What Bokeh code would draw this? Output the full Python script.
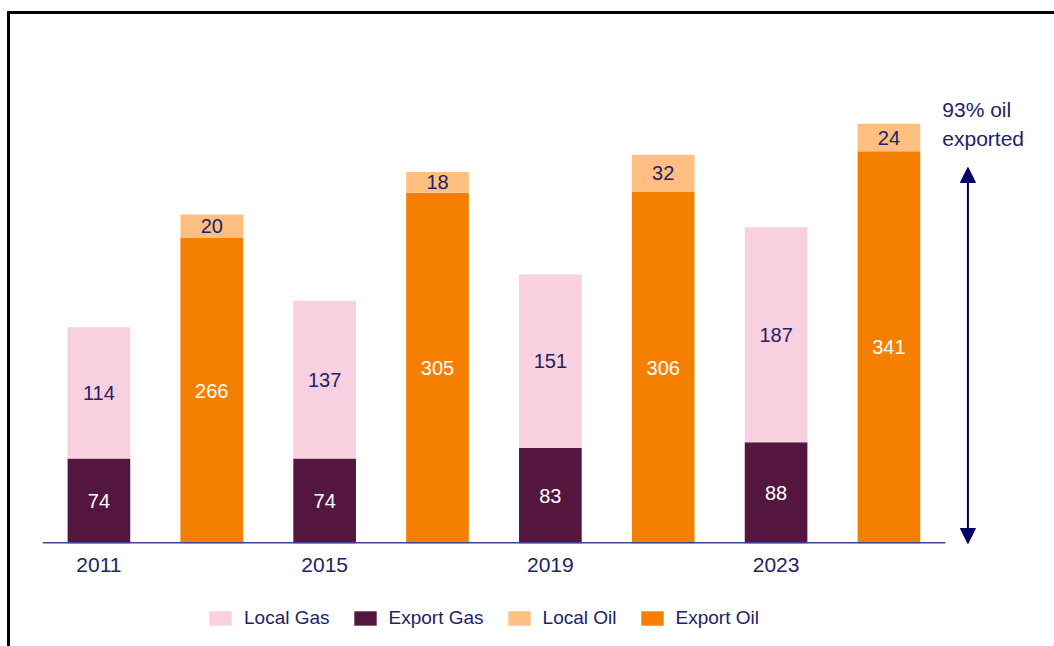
from bokeh.plotting import figure
from bokeh.layouts import column
from bokeh.models import (ColumnDataSource, Range1d, LabelSet, Legend, LegendItem,
                          Arrow, NormalHead, Label, FixedTicker, CustomJSTickFormatter)
from bokeh.core.properties import value
from bokeh.embed import file_html
from bokeh.resources import INLINE

# ---- data ----
years = ["2011", "2015", "2019", "2023"]
local_gas = [114, 137, 151, 187]
export_gas = [74, 74, 83, 88]
local_oil = [20, 18, 32, 24]
export_oil = [266, 305, 306, 341]
series = ["Local Gas", "Export Gas", "Local Oil", "Export Oil"]
annotation_lines = ["93% oil", "exported"]
arrow_top = 327

colors = {"Local Gas": "#F9D0DF", "Export Gas": "#54163F",
          "Local Oil": "#FFBF80", "Export Oil": "#F57F00"}
NAVY = "#222266"
FONT = "Liberation Sans"

n_slots = 2 * len(years)
gas_x = [0.5 + 2 * i for i in range(len(years))]
oil_x = [1.5 + 2 * i for i in range(len(years))]

def make_src(xs, exp, loc):
    return ColumnDataSource(dict(
        x=xs, exp=exp, loc=loc,
        exp_mid=[e / 2 for e in exp],
        loc_mid=[e + l / 2 for e, l in zip(exp, loc)],
        exp_txt=[str(v) for v in exp], loc_txt=[str(v) for v in loc]))

gas_src = make_src(gas_x, export_gas, local_gas)
oil_src = make_src(oil_x, export_oil, local_oil)

PX_PER_SLOT = 113.75
PX_PER_UNIT = 1.15
W = 1044
p = figure(x_range=Range1d(0, n_slots + 110 / PX_PER_SLOT),
           y_range=Range1d(0, 529 / PX_PER_UNIT),
           width=W, height=584, output_backend="svg", toolbar_location=None,
           min_border_left=32, min_border_right=0, min_border_top=0,
           min_border_bottom=55, y_axis_location=None)
p.xgrid.visible = False
p.ygrid.visible = False
p.outline_line_color = None

BW = 0.555
gas_r = p.vbar_stack(["exp", "loc"], x="x", width=BW, source=gas_src,
                     color=[colors["Export Gas"], colors["Local Gas"]], line_color=None)
oil_r = p.vbar_stack(["exp", "loc"], x="x", width=BW, source=oil_src,
                     color=[colors["Export Oil"], colors["Local Oil"]], line_color=None)

# baseline across the bar slots only
p.segment(x0=[0], y0=[0], x1=[n_slots], y1=[0], line_color="#444488", line_width=3)

ax = p.xaxis[0]
ax.ticker = FixedTicker(ticks=gas_x)
ax.formatter = CustomJSTickFormatter(args=dict(labels=years),
                                     code="return labels[Math.round((tick - 0.5) / 2)];")
ax.major_tick_line_color = None
ax.minor_tick_line_color = None
ax.axis_line_color = None
ax.major_label_text_font = FONT
ax.major_label_text_font_size = "21px"
ax.major_label_text_color = NAVY
ax.major_label_standoff = 8

def labels(src, ycol, tcol, color, bg=None):
    kw = dict(background_fill_color=bg) if bg else {}
    return LabelSet(x="x", y=ycol, text=tcol, source=src, text_align="center",
                    text_baseline="middle", text_color=color,
                    text_font=value(FONT), text_font_size="20px", **kw)

p.add_layout(labels(gas_src, "exp_mid", "exp_txt", "white"))
p.add_layout(labels(gas_src, "loc_mid", "loc_txt", NAVY))
p.add_layout(labels(oil_src, "exp_mid", "exp_txt", "white"))
p.add_layout(labels(oil_src, "loc_mid", "loc_txt", NAVY, bg=colors["Local Oil"]))

# arrow to the right of the bars
arrow_x = n_slots + 0.20
head = dict(size=15, fill_color="#000066", line_color="#000066")
p.add_layout(Arrow(start=NormalHead(**head), end=NormalHead(**head),
                   x_start=arrow_x, y_start=0, x_end=arrow_x, y_end=arrow_top,
                   line_color="#000066", line_width=2))
for i, t in enumerate(annotation_lines):
    p.add_layout(Label(x=n_slots - 0.027, y=377 - i * 25, text=t,
                       text_font=FONT, text_font_size="21px", text_color=NAVY,
                       text_baseline="alphabetic"))

# ---- legend strip (separate canvas so that nothing is clipped) ----
pl = figure(x_range=Range1d(0, n_slots), y_range=Range1d(-2, -1), width=W, height=48,
            output_backend="svg", toolbar_location=None,
            min_border_left=0, min_border_right=0, min_border_top=0, min_border_bottom=0,
            x_axis_location=None, y_axis_location=None)
pl.xgrid.visible = False
pl.ygrid.visible = False
pl.outline_line_color = None
# same stacks, hidden; they only feed the legend swatches
lg_gas = pl.vbar_stack(["exp", "loc"], x="x", width=BW, source=gas_src,
                       color=[colors["Export Gas"], colors["Local Gas"]], line_color=None)
lg_oil = pl.vbar_stack(["exp", "loc"], x="x", width=BW, source=oil_src,
                       color=[colors["Export Oil"], colors["Local Oil"]], line_color=None)
for r in lg_gas + lg_oil:
    r.visible = False
swatch = {"Local Gas": lg_gas[1], "Export Gas": lg_gas[0],
          "Local Oil": lg_oil[1], "Export Oil": lg_oil[0]}

legend = Legend(items=[LegendItem(label=s, renderers=[swatch[s]]) for s in series],
                orientation="horizontal", location=(164, 17))
legend.glyph_width = 28
legend.glyph_height = 18
legend.label_standoff = 10
legend.spacing = 21
legend.padding = 0
legend.margin = 0
legend.border_line_color = None
legend.background_fill_alpha = 0
legend.inactive_fill_alpha = 0
legend.label_text_font = FONT
legend.label_text_font_size = "19px"
legend.label_text_color = NAVY
pl.add_layout(legend)

layout = column(p, pl, spacing=0)
layout.styles = {"margin-left": "7px", "margin-top": "11px",
                 "border-top": "3px solid black", "border-left": "3px solid black"}

open("out.html", "w").write(file_html(layout, INLINE))
